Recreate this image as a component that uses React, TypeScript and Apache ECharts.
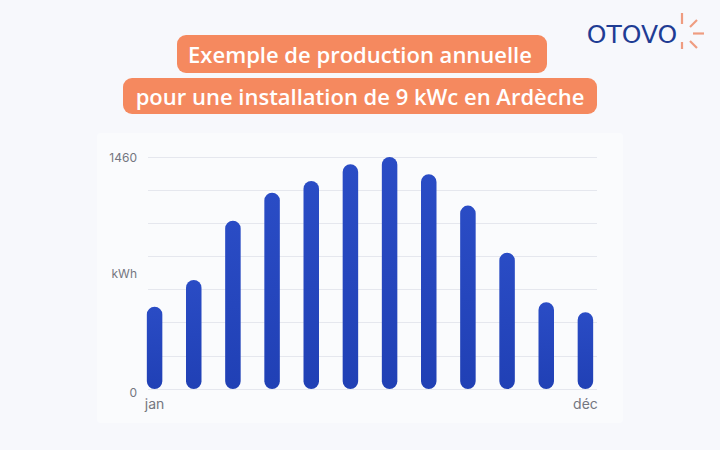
import React, { useEffect, useRef } from "react";
import * as echarts from "echarts";

const months = ["jan", "fév", "mar", "avr", "mai", "juin", "juil", "août", "sep", "oct", "nov", "déc"];
const production = [518, 686, 1059, 1235, 1309, 1414, 1460, 1351, 1154, 858, 546, 483];
const yMax = 1460;
const yTickLabels: Record<number, string> = { 0: "{z|0}", 730: "kWh", 1460: "1460" };
const titleLines = ["Exemple de production annuelle", "pour une installation de 9 kWc en Ardèche"];

export default function App() {
  const ref = useRef<HTMLDivElement>(null);
  useEffect(() => {
    if (!ref.current) return;
    const chart = echarts.init(ref.current, undefined, { renderer: "svg" });
    const labelColor = "#74767f";
    const orange = "#F5895F";
    const logoOrange = "#EF9C80";
    chart.setOption({
      animation: false,
      backgroundColor: "#F7F8FC",
      graphic: [
        { type: "rect", shape: { x: 97, y: 133, width: 526, height: 290, r: 4 }, style: { fill: "#FAFBFD" }, z: -10 },
        { type: "rect", shape: { x: 177, y: 35, width: 370, height: 38, r: 9 }, style: { fill: orange } },
        { type: "rect", shape: { x: 123, y: 78, width: 474, height: 36, r: 9 }, style: { fill: orange } },
        {
          type: "text", x: 360, y: 54,
          style: { text: titleLines[0], fill: "#ffffff", font: "600 22px 'Open Sans'", textAlign: "center", textVerticalAlign: "middle" },
        },
        {
          type: "text", x: 360, y: 96,
          style: { text: titleLines[1], fill: "#ffffff", font: "600 22px 'Open Sans'", textAlign: "center", textVerticalAlign: "middle" },
        },
        {
          type: "text", x: 632, y: 34,
          style: { text: "OTOVO", fill: "#1F3C94", font: "25px 'DejaVu Sans'", textAlign: "center", textVerticalAlign: "middle" },
        },
        { type: "line", shape: { x1: 682, y1: 13, x2: 682, y2: 24 }, style: { stroke: logoOrange, lineWidth: 2.2 } },
        { type: "line", shape: { x1: 690, y1: 27, x2: 697, y2: 20 }, style: { stroke: logoOrange, lineWidth: 2.2 } },
        { type: "line", shape: { x1: 693, y1: 33.5, x2: 704, y2: 33.5 }, style: { stroke: logoOrange, lineWidth: 2.2 } },
        { type: "line", shape: { x1: 690, y1: 41, x2: 697, y2: 48 }, style: { stroke: logoOrange, lineWidth: 2.2 } },
        { type: "line", shape: { x1: 682, y1: 42, x2: 682, y2: 49 }, style: { stroke: logoOrange, lineWidth: 2.2 } },
      ],
      grid: [
        { left: 148, right: 123, top: 157, bottom: 61 },
        { left: 135, right: 115, top: 157, bottom: 61 },
      ],
      xAxis: [
        { type: "value", gridIndex: 0, show: false, min: 0, max: 1 },
        {
          type: "category", gridIndex: 1, data: months, boundaryGap: true,
          axisLine: { show: false }, axisTick: { show: false },
          axisLabel: {
            interval: (i: number) => i === 0 || i === months.length - 1,
            color: labelColor, fontSize: 14, fontFamily: "Inter", margin: 7,
          },
        },
      ],
      yAxis: [
        {
          type: "value", gridIndex: 0, position: "left", min: 0, max: yMax, interval: yMax / 7,
          axisLabel: { show: false }, axisLine: { show: false }, axisTick: { show: false },
          splitLine: { lineStyle: { color: "#E5E7EE", width: 1 } },
        },
        {
          type: "value", gridIndex: 0, position: "left", offset: 0, min: 0, max: yMax, interval: yMax / 2,
          axisLine: { show: false }, axisTick: { show: false }, splitLine: { show: false },
          axisLabel: {
            color: labelColor, fontSize: 12, fontFamily: "Inter", margin: 11,
            formatter: (v: number) => yTickLabels[Math.round(v)] ?? "",
            rich: { z: { color: labelColor, fontSize: 12, fontFamily: "Inter", padding: [7, 0, 0, 0] } },
          },
        },
        { type: "value", gridIndex: 1, min: 0, max: yMax, show: false },
      ],
      series: [
        {
          type: "bar", xAxisIndex: 1, yAxisIndex: 2, data: production, barWidth: 15.5,
          itemStyle: {
            borderRadius: 7.75,
            color: new echarts.graphic.LinearGradient(0, 0, 0, 1, [
              { offset: 0, color: "#2A4CC5" },
              { offset: 1, color: "#2040B5" },
            ]),
          },
        },
      ],
    });
    return () => chart.dispose();
  }, []);
  return <div ref={ref} style={{ width: 720, height: 450, position: "absolute", left: 0, top: 0 }} />;
}
